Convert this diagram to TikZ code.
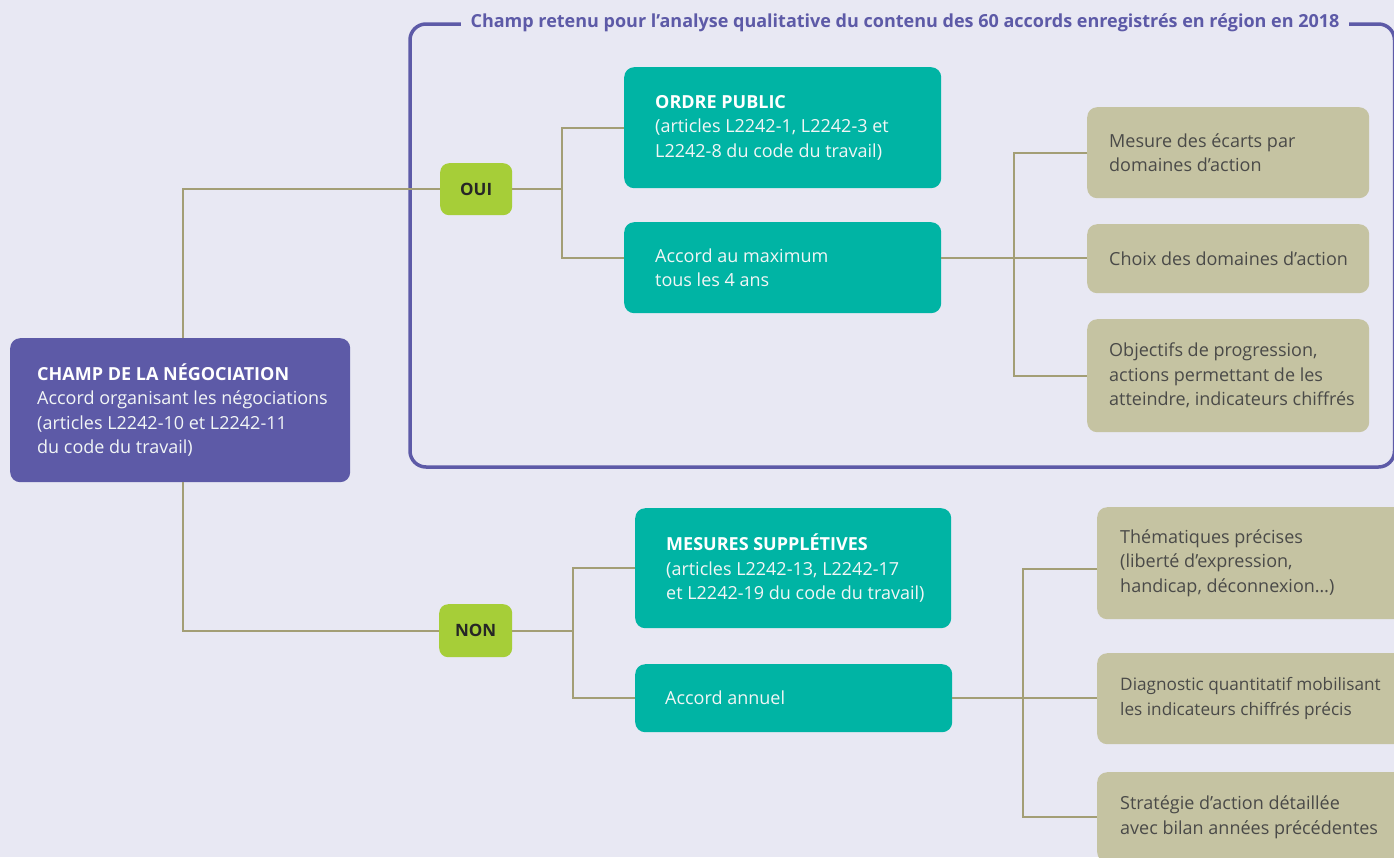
\documentclass[tikz,border=0pt]{standalone}
\usepackage{fontspec}
\setmainfont{Open Sans}
\definecolor{bg}{HTML}{E8E8F3}
\definecolor{purp}{HTML}{5D5AA7}
\definecolor{teal}{HTML}{00B4A4}
\definecolor{lime}{HTML}{A6CE38}
\definecolor{beige}{HTML}{C5C3A2}
\definecolor{olive}{HTML}{A39E75}
\definecolor{dtext}{HTML}{4A4A48}
\definecolor{ltext}{HTML}{F2F6F6}
\begin{document}
\begin{tikzpicture}[x=1pt,y=-1pt,
  bx/.style={draw=none, rounded corners=10pt, anchor=north west, inner sep=0pt},
  pbox/.style={bx, fill=purp},
  tbox/.style={bx, fill=teal},
  gbox/.style={bx, fill=lime, rounded corners=9pt, font=\fontsize{17}{20}\selectfont\bfseries, text=black!85},
  ebox/.style={bx, fill=beige},
  txt/.style={anchor=west, align=left, inner sep=0pt, font=\fontsize{18}{24.5}\selectfont},
  ltxt/.style={txt, text=ltext},
  dtxt/.style={txt, text=dtext},
  conn/.style={draw=olive, line width=2pt},
  frame/.style={draw=purp, line width=3.5pt, rounded corners=16pt}
]
\useasboundingbox[fill=bg] (0,0) rectangle (1394,857);

% frame
\draw[frame] (410,24) rectangle (1394.5,467);
\node[fill=bg, inner xsep=10pt, inner ysep=4pt, text=purp, font=\fontsize{18}{20}\selectfont\bfseries] (title) at (905,23) {Champ retenu pour l’analyse qualitative du contenu des 60 accords enregistrés en région en 2018};

% boxes
\node[pbox, minimum width=340pt, minimum height=144pt] (main) at (10,338) {};
\node[ltxt] (maint) at ([xshift=27pt]main.west) {{\bfseries\color{white}CHAMP DE LA NÉGOCIATION}\\Accord organisant les négociations\\(articles L2242-10 et L2242-11\\du code du travail)};

\node[gbox, minimum width=72pt, minimum height=52pt] (oui) at (440,163) {OUI};
\node[gbox, minimum width=73pt, minimum height=53pt] (non) at (439,604) {NON};

\node[tbox, minimum width=317pt, minimum height=121pt] (ordre) at (624,67) {};
\node[ltxt] (ordret) at ([xshift=31pt]ordre.west) {{\bfseries\color{white}ORDRE PUBLIC}\\(articles L2242-1, L2242-3 et\\L2242-8 du code du travail)};

\node[tbox, minimum width=317pt, minimum height=91pt] (accmax) at (624,222) {};
\node[ltxt] (accmaxt) at ([xshift=31pt]accmax.west) {Accord au maximum\\tous les 4 ans};

\node[tbox, minimum width=316pt, minimum height=120pt] (mesures) at (635,508) {};
\node[ltxt] (mesurest) at ([xshift=31pt]mesures.west) {{\bfseries\color{white}MESURES SUPPLÉTIVES}\\(articles L2242-13, L2242-17\\et L2242-19 du code du travail)};

\node[tbox, minimum width=317pt, minimum height=68pt] (annuel) at (635,664) {};
\node[ltxt] (annuelt) at ([xshift=30pt]annuel.west) {Accord annuel};

\node[ebox, minimum width=282pt, minimum height=91pt] (e1) at (1087,107) {};
\node[dtxt] (e1t) at ([xshift=22pt]e1.west) {Mesure des écarts par\\domaines d’action};
\node[ebox, minimum width=282pt, minimum height=69pt] (e2) at (1087,224) {};
\node[dtxt] (e2t) at ([xshift=22pt]e2.west) {Choix des domaines d’action};
\node[ebox, minimum width=282pt, minimum height=113pt] (e3) at (1087,319) {};
\node[dtxt] (e3t) at ([xshift=22pt]e3.west) {Objectifs de progression,\\actions permettant de les\\atteindre, indicateurs chiffrés};

\node[ebox, minimum width=310pt, minimum height=112pt] (f1) at (1097,507) {};
\node[dtxt] (f1t) at ([xshift=23pt]f1.west) {Thématiques précises\\(liberté d’expression,\\handicap, déconnexion…)};
\node[ebox, minimum width=310pt, minimum height=91pt] (f2) at (1097,653) {};
\node[dtxt, font=\fontsize{17.2}{24.5}\selectfont] (f2t) at ([xshift=23pt]f2.west) {Diagnostic quantitatif mobilisant\\les indicateurs chiffrés précis};
\node[ebox, minimum width=310pt, minimum height=90pt] (f3) at (1097,772) {};
\node[dtxt] (f3t) at ([xshift=23pt]f3.west) {Stratégie d’action détaillée\\avec bilan années précédentes};

% connectors
\coordinate (mt) at ([xshift=2.5pt]main.north);
\coordinate (mb) at ([xshift=2.5pt]main.south);
\draw[conn] (mt) |- (oui.west);
\draw[conn] (mb) |- (non.west);

\draw[conn] (oui.east) -- ++(50,0) coordinate (j1);
\draw[conn] (ordre.west) -| (j1) |- ([yshift=9.5pt]accmax.west);

\coordinate (am) at ([yshift=9.5pt]accmax.east);
\draw[conn] (am) -- ++(73,0) coordinate (j2);
\draw[conn] (e1.west) -| (j2) |- (e3.west);
\draw[conn] (j2) -- (j2 -| e2.west);

\draw[conn] (non.east) -- ++(61,0) coordinate (j3);
\draw[conn] (mesures.west) -| (j3) |- (annuel.west);

\draw[conn] (annuel.east) -- ++(71,0) coordinate (j4);
\draw[conn] ([yshift=-6pt]f1.west) -| (j4) |- (f3.west);
\draw[conn] (j4) -- (j4 -| f2.west);
\end{tikzpicture}
\end{document}
